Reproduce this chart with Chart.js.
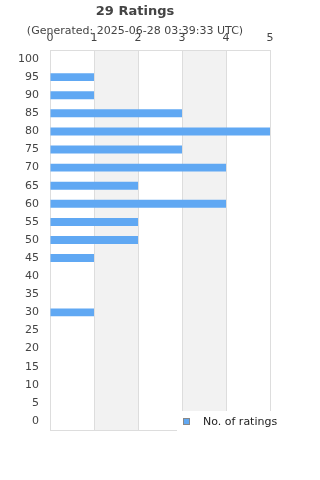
<!DOCTYPE html>
<html lang="en">
<head>
<meta charset="UTF-8">
<script src="https://cdn.jsdelivr.net/npm/chart.js@4.4.0/dist/chart.umd.min.js"></script>
<style>
    body { margin: 0; background: #fff; }
    #wrap { width: 320px; height: 480px; }
</style>
</head>
<body>
<div id="wrap"><canvas id="ratings-chart"></canvas></div>
<script>
    var scores = ['100', '95', '90', '85', '80', '75', '70', '65', '60', '55', '50',
                  '45', '40', '35', '30', '25', '20', '15', '10', '5', '0'];
    var ratingCounts = [0, 1, 1, 3, 5, 3, 4, 2, 4, 2, 2, 1, 0, 0, 1, 0, 0, 0, 0, 0, 0];
    var countTicks = [0, 1, 2, 3, 4, 5];
    var shadedBands = [[1, 2], [3, 4]];
    var titleText = '29 Ratings';
    var subtitleText = '(Generated: 2025-06-28 03:39:33 UTC)';
    var seriesName = 'No. of ratings';

    Chart.defaults.font.family = '"DejaVu Sans", sans-serif';
    Chart.defaults.color = '#444';

    // grey stripes between every other vertical grid line
    var bandsPlugin = {
        id: 'bands',
        beforeDraw: function (chart) {
            var ctx = chart.ctx, area = chart.chartArea, xs = chart.scales.x;
            ctx.save();
            ctx.fillStyle = '#f2f2f2';
            shadedBands.forEach(function (b) {
                var x0 = xs.getPixelForValue(b[0]), x1 = xs.getPixelForValue(b[1]);
                ctx.fillRect(x0, area.top, x1 - x0, area.bottom - area.top);
            });
            ctx.restore();
        }
    };

    // legend sits over the bottom right corner of the plot, white box behind it
    var legendBoxPlugin = {
        id: 'legendBox',
        afterDraw: function (chart) {
            var ctx = chart.ctx, area = chart.chartArea, ds = chart.data.datasets[0];
            ctx.save();
            ctx.font = '11px "DejaVu Sans"';
            var textW = ctx.measureText(ds.label).width;
            var x = area.right - 93, y = area.bottom - 19;
            ctx.fillStyle = '#fff';
            ctx.fillRect(x, y, textW + 40, 23);
            ctx.fillStyle = ds.backgroundColor;
            ctx.fillRect(x + 6.5, y + 7.5, 6, 6);
            ctx.strokeStyle = '#888';
            ctx.lineWidth = 1;
            ctx.strokeRect(x + 6.5, y + 7.5, 6, 6);
            ctx.fillStyle = '#222';
            ctx.textBaseline = 'middle';
            ctx.fillText(ds.label, x + 26, y + 11.5);
            ctx.restore();
        }
    };

    var ctx = document.getElementById('ratings-chart').getContext('2d');
    var ratingsChart = new Chart(ctx, {
        type: 'bar',
        data: {
            labels: scores,
            datasets: [{
                label: seriesName,
                data: ratingCounts,
                backgroundColor: '#60a8f3',
                borderWidth: 0,
                categoryPercentage: 1,
                barPercentage: 0.44
            }]
        },
        options: {
            indexAxis: 'y',
            responsive: true,
            maintainAspectRatio: false,
            animation: false,
            layout: { padding: { left: 0, right: 50, top: 0, bottom: 50 } },
            plugins: {
                legend: { display: false },
                tooltip: { enabled: false },
                title: {
                    display: true,
                    text: titleText,
                    color: '#444',
                    font: { size: 13, weight: 'bold' },
                    padding: { top: 4, bottom: 4 }
                },
                subtitle: {
                    display: true,
                    text: subtitleText,
                    color: '#444',
                    font: { size: 11 },
                    // negative bottom padding lets the axis labels overlap the subtitle
                    padding: { top: 1, bottom: -11 }
                }
            },
            scales: {
                x: {
                    position: 'top',
                    min: 0,
                    max: 5,
                    afterBuildTicks: function (s) {
                        s.ticks = countTicks.map(function (v) { return { value: v }; });
                    },
                    ticks: { padding: 5, font: { size: 11 }, color: '#444', maxRotation: 0 },
                    grid: { color: '#ddd', drawTicks: false },
                    border: { color: '#ddd' }
                },
                y: {
                    afterFit: function (s) { s.width = 50; },
                    ticks: { padding: 11, font: { size: 11 }, color: '#444', autoSkip: false },
                    grid: {
                        drawTicks: false,
                        color: function (c) { return c.type === 'tick' ? 'rgba(0,0,0,0)' : '#ddd'; }
                    },
                    border: { color: '#ddd' }
                }
            }
        },
        plugins: [bandsPlugin, legendBoxPlugin]
    });
</script>
</body>
</html>
